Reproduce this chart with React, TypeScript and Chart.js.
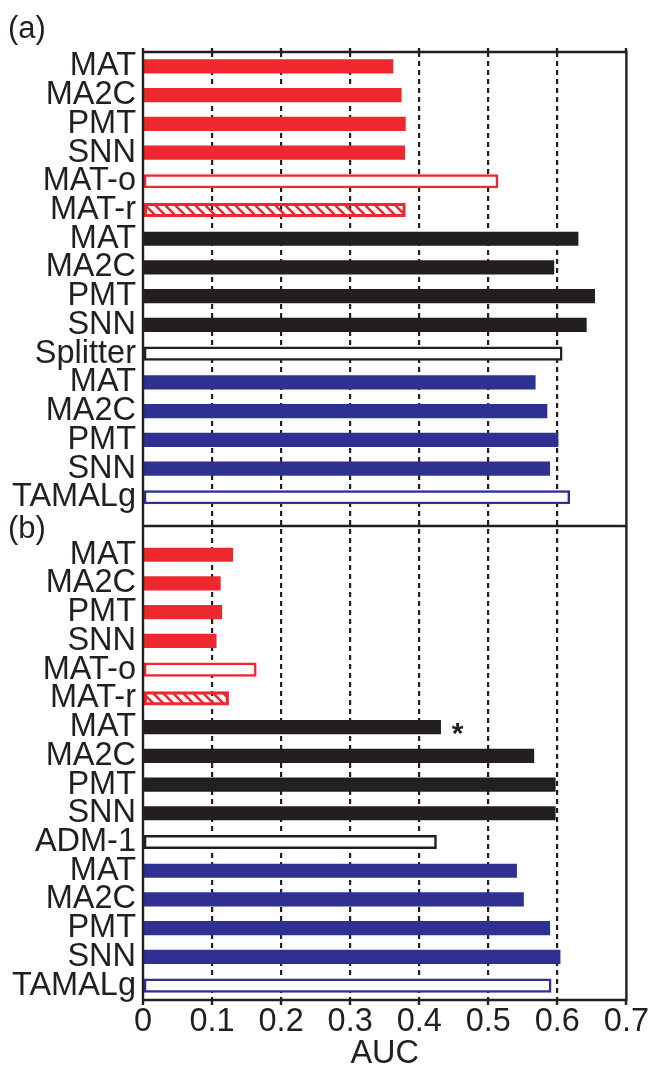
import React, { useEffect, useRef } from 'react';
import { Chart, registerables } from 'chart.js';

Chart.register(...registerables);

// ---------- data ----------
const panelALabels = ['MAT', 'MA2C', 'PMT', 'SNN', 'MAT-o', 'MAT-r', 'MAT', 'MA2C', 'PMT', 'SNN', 'Splitter', 'MAT', 'MA2C', 'PMT', 'SNN', 'TAMALg'];
const panelAValues = [0.362, 0.374, 0.380, 0.379, 0.514, 0.380, 0.630, 0.595, 0.654, 0.642, 0.607, 0.568, 0.585, 0.601, 0.589, 0.618];
const panelBLabels = ['MAT', 'MA2C', 'PMT', 'SNN', 'MAT-o', 'MAT-r', 'MAT', 'MA2C', 'PMT', 'SNN', 'ADM-1', 'MAT', 'MA2C', 'PMT', 'SNN', 'TAMALg'];
const panelBValues = [0.130, 0.112, 0.114, 0.106, 0.164, 0.124, 0.431, 0.566, 0.597, 0.597, 0.425, 0.541, 0.551, 0.589, 0.604, 0.591];
const barKinds = ['red', 'red', 'red', 'red', 'redOpen', 'redHatch', 'black', 'black', 'black', 'black', 'blackOpen', 'blue', 'blue', 'blue', 'blue', 'blueOpen'];
const xTickValues = [0, 0.1, 0.2, 0.3, 0.4, 0.5, 0.6, 0.7];
const panelTags = ['(a)', '(b)'];
const axisTitle = 'AUC';
const starredIndexInB = 6;
const starMark = '*';

// ---------- style ----------
const INK = '#231F20';
const RED = '#ED282E';
const BLUE = '#2E3192';
const FONT_FAMILY = '"Liberation Sans", Arial, Helvetica, sans-serif';
const TEXT_SIZE = 32.5;

function makeHatch(color: string): CanvasPattern | string {
  const c = document.createElement('canvas');
  c.width = 10;
  c.height = 10;
  const g = c.getContext('2d');
  if (!g) return color;
  g.strokeStyle = color;
  g.lineWidth = 2.6;
  g.beginPath();
  g.moveTo(-2, -2); g.lineTo(12, 12);
  g.moveTo(-7, 3); g.lineTo(7, 17);
  g.moveTo(3, -7); g.lineTo(17, 7);
  g.stroke();
  const p = g.createPattern(c, 'repeat');
  return p || color;
}

export default function App() {
  const canvasRef = useRef<HTMLCanvasElement | null>(null);

  useEffect(() => {
    const canvas = canvasRef.current;
    if (!canvas) return;

    const labels = [...panelALabels, '', ...panelBLabels];
    const values: (number | null)[] = [...panelAValues, null, ...panelBValues];
    const kinds = [...barKinds, 'none', ...barKinds];
    const hatch = makeHatch(RED);

    const bg = kinds.map((k) => {
      if (k === 'red') return RED;
      if (k === 'black') return INK;
      if (k === 'blue') return BLUE;
      if (k === 'redHatch') return hatch;
      return '#FFFFFF';
    });
    const bc = kinds.map((k) => {
      if (k.startsWith('red')) return RED;
      if (k.startsWith('black')) return INK;
      if (k.startsWith('blue')) return BLUE;
      return 'transparent';
    });
    const bw = kinds.map((k) => (k.endsWith('Open') || k.endsWith('Hatch') ? 2.5 : 0));

    const framePlugin = {
      id: 'frame',
      afterDraw(chart: any) {
        const { ctx, chartArea: a, scales } = chart;
        const x = scales.x;
        const y = scales.y;
        ctx.save();
        ctx.strokeStyle = INK;
        ctx.lineWidth = 2.4;
        ctx.setLineDash([]);
        ctx.beginPath();
        ctx.rect(a.left, a.top, a.right - a.left, a.bottom - a.top);
        const yDiv = Math.round(y.getPixelForValue(panelALabels.length));
        ctx.moveTo(a.left, yDiv);
        ctx.lineTo(a.right, yDiv);
        xTickValues.forEach((v) => {
          const px = Math.round(x.getPixelForValue(v));
          ctx.moveTo(px, a.top - 4);
          ctx.lineTo(px, a.top);
          ctx.moveTo(px, a.bottom);
          ctx.lineTo(px, a.bottom + 5);
        });
        ctx.stroke();

        ctx.fillStyle = INK;
        ctx.font = `31px ${FONT_FAMILY}`;
        ctx.textAlign = 'left';
        ctx.textBaseline = 'alphabetic';
        ctx.fillText(panelTags[0], 8, 37.5);
        ctx.fillText(panelTags[1], 8, yDiv + 11.5);

        const si = panelALabels.length + 1 + starredIndexInB;
        const sx = x.getPixelForValue(panelBValues[starredIndexInB]) + 17;
        const sy = y.getPixelForValue(si);
        ctx.font = `bold 30px ${FONT_FAMILY}`;
        ctx.textAlign = 'center';
        ctx.fillText(starMark, sx, sy + 16);
        ctx.restore();
      },
    };

    const chart = new Chart(canvas, {
      type: 'bar',
      data: {
        labels,
        datasets: [
          {
            data: values as any,
            backgroundColor: bg as any,
            borderColor: bc,
            borderWidth: bw,
            borderSkipped: false,
            barThickness: 13.5,
          },
        ],
      },
      options: {
        indexAxis: 'y',
        responsive: false,
        devicePixelRatio: 1,
        animation: false,
        layout: { padding: { top: 52, right: 22, left: 0, bottom: 0 } },
        plugins: {
          legend: { display: false },
          tooltip: { enabled: false },
        },
        scales: {
          x: {
            type: 'linear',
            position: 'bottom',
            min: 0,
            max: 0.7,
            afterBuildTicks: (scale: any) => {
              scale.ticks = xTickValues.map((v) => ({ value: v }));
            },
            afterFit: (scale: any) => {
              scale.height = 72;
            },
            grid: {
              drawTicks: false,
              lineWidth: 2.2,
              color: (c: any) => {
                const v = c.tick ? c.tick.value : 0;
                return v > 0.001 && v < 0.699 ? INK : 'rgba(0,0,0,0)';
              },
            },
            border: { display: false, dash: [5, 4] },
            ticks: {
              padding: 3,
              color: INK,
              font: { family: FONT_FAMILY, size: TEXT_SIZE },
              callback: (v: any) => String(Math.round(Number(v) * 10) / 10),
            },
            title: {
              display: true,
              text: axisTitle,
              color: INK,
              font: { family: FONT_FAMILY, size: TEXT_SIZE },
              padding: { top: 0, bottom: -2 },
            },
          },
          y: {
            type: 'category',
            position: 'left',
            afterFit: (scale: any) => {
              scale.width = 143;
            },
            grid: { display: false, drawTicks: false },
            border: { display: false },
            ticks: {
              autoSkip: false,
              padding: 7,
              color: INK,
              font: { family: FONT_FAMILY, size: TEXT_SIZE },
            },
          },
        },
      },
      plugins: [framePlugin],
    } as any);

    return () => {
      chart.destroy();
    };
  }, []);

  return (
    <div style={{ position: 'fixed', left: 0, top: 0, width: 652, height: 1072, background: '#FFFFFF' }}>
      <canvas ref={canvasRef} width={652} height={1072} style={{ display: 'block', width: 652, height: 1072 }} />
    </div>
  );
}
